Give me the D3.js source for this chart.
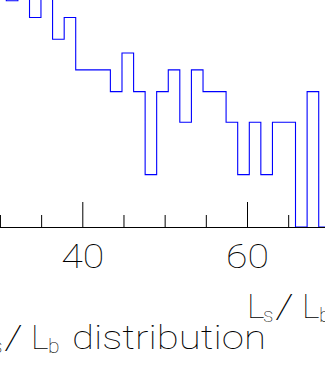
<!DOCTYPE html>
<html>
<head>
<meta charset="utf-8">
<script src="https://cdn.jsdelivr.net/npm/d3@7/dist/d3.min.js"></script>
<style>
  html, body { margin: 0; padding: 0; background: #fff; }
  svg { display: block; }
  text { font-family: Roboto, "Open Sans", sans-serif; font-weight: 100; fill: #000; }
</style>
</head>
<body>
<svg id="chart" width="325" height="365"></svg>
<script>
// Histogram of Ls/Lb: bin edges (lower edges plus the final upper edge)
const binEdges = [29.36, 30.77, 32.18, 33.59, 34.98, 36.39, 37.80, 39.20, 40.61, 42.02,
                  43.41, 44.82, 46.23, 47.63, 49.03, 50.44, 51.84, 53.25, 54.66, 56.05,
                  57.46, 58.87, 60.28, 61.68, 63.09, 64.50, 65.89, 67.30, 68.71, 70.12];
// Number of entries in each bin
const binCounts = [12, 10, 12, 8, 11, 6, 8, 4, 4, 4,
                   3, 5, 3, 1, 3, 4, 2, 4, 3, 3,
                   2, 1, 2, 1, 2, 2, 0, 3, 0];
// Axis ticks
const majorTicks = [40, 60];
const majorTickLabels = ["40", "60"];
const minorTicks = [30, 35, 45, 50, 55, 65, 70];
// Title texts: pieces of "Ls/Lb" (subscripts flagged) and the trailing word
const ratioParts = [
  { t: "L", sub: false },
  { t: "s", sub: true },
  { t: "/", sub: false },
  { t: "L", sub: false },
  { t: "b", sub: true }
];
const titleWord = "distribution";

const svg = d3.select("#chart");
const W = 325;
const axisY = 227;
const fontSize = 34;
const subSize = 21;

const x = d3.scaleLinear().domain([40, 60]).range([82.3, 247]);
const y = d3.scaleLog().domain([0.5, 10]).range([axisY, 0.7]);

// Axis scale spanning the whole visible width, same mapping as x
const xAxisScale = x.copy().domain([x.invert(-2), x.invert(W + 2)]).range([-2, W + 2]);

// Histogram steps
const pts = binCounts.map((c, i) => [binEdges[i], Math.max(c, 0.5)]);
pts.push([binEdges[binEdges.length - 1], Math.max(binCounts[binCounts.length - 1], 0.5)]);
const line = d3.line()
  .x(d => x(d[0]))
  .y(d => y(d[1]))
  .curve(d3.curveStepAfter);

svg.append("path")
  .datum(pts)
  .attr("fill", "none")
  .attr("stroke", "#0000ff")
  .attr("stroke-width", 1.1)
  .attr("d", line);

// Minor ticks
const minorAxis = svg.append("g")
  .attr("transform", `translate(0,${axisY})`)
  .call(d3.axisBottom(xAxisScale).tickValues(minorTicks).tickSize(-12).tickSizeOuter(0).tickFormat(""));
minorAxis.select(".domain").remove();

// Major ticks with labels and the axis line
const majorAxis = svg.append("g")
  .attr("transform", `translate(0,${axisY})`)
  .call(d3.axisBottom(xAxisScale).tickValues(majorTicks).tickSize(-25).tickSizeOuter(0)
        .tickFormat((d, i) => majorTickLabels[i]));
majorAxis.selectAll("text")
  .attr("y", 41)
  .attr("dy", 0)
  .attr("font-size", fontSize)
  .attr("font-family", null)
  .attr("textLength", 43)
  .attr("lengthAdjust", "spacingAndGlyphs")
  .style("font-weight", 100);
svg.selectAll(".tick line, .domain").attr("stroke", "#000");

// "Ls/Lb" written piece by piece; x0 is where the first L stem sits
function ratioLabel(x0, baseline) {
  const g = svg.append("g");
  const offsets = [-3, 13, 25, 52, 69];
  ratioParts.forEach((p, i) => {
    const t = g.append("text")
      .attr("x", x0 + offsets[i])
      .attr("y", baseline + (p.sub ? 4 : 0))
      .attr("font-size", p.sub ? subSize : fontSize)
      .text(p.t);
    if (p.t === "/") t.attr("textLength", 19).attr("lengthAdjust", "spacingAndGlyphs");
  });
  return g;
}

// X-axis title
ratioLabel(250, 318);

// Chart title
ratioLabel(-21, 349);
svg.append("text")
  .attr("x", 72)
  .attr("y", 349)
  .attr("font-size", fontSize)
  .attr("textLength", 194)
  .attr("lengthAdjust", "spacingAndGlyphs")
  .text(titleWord);
</script>
</body>
</html>
